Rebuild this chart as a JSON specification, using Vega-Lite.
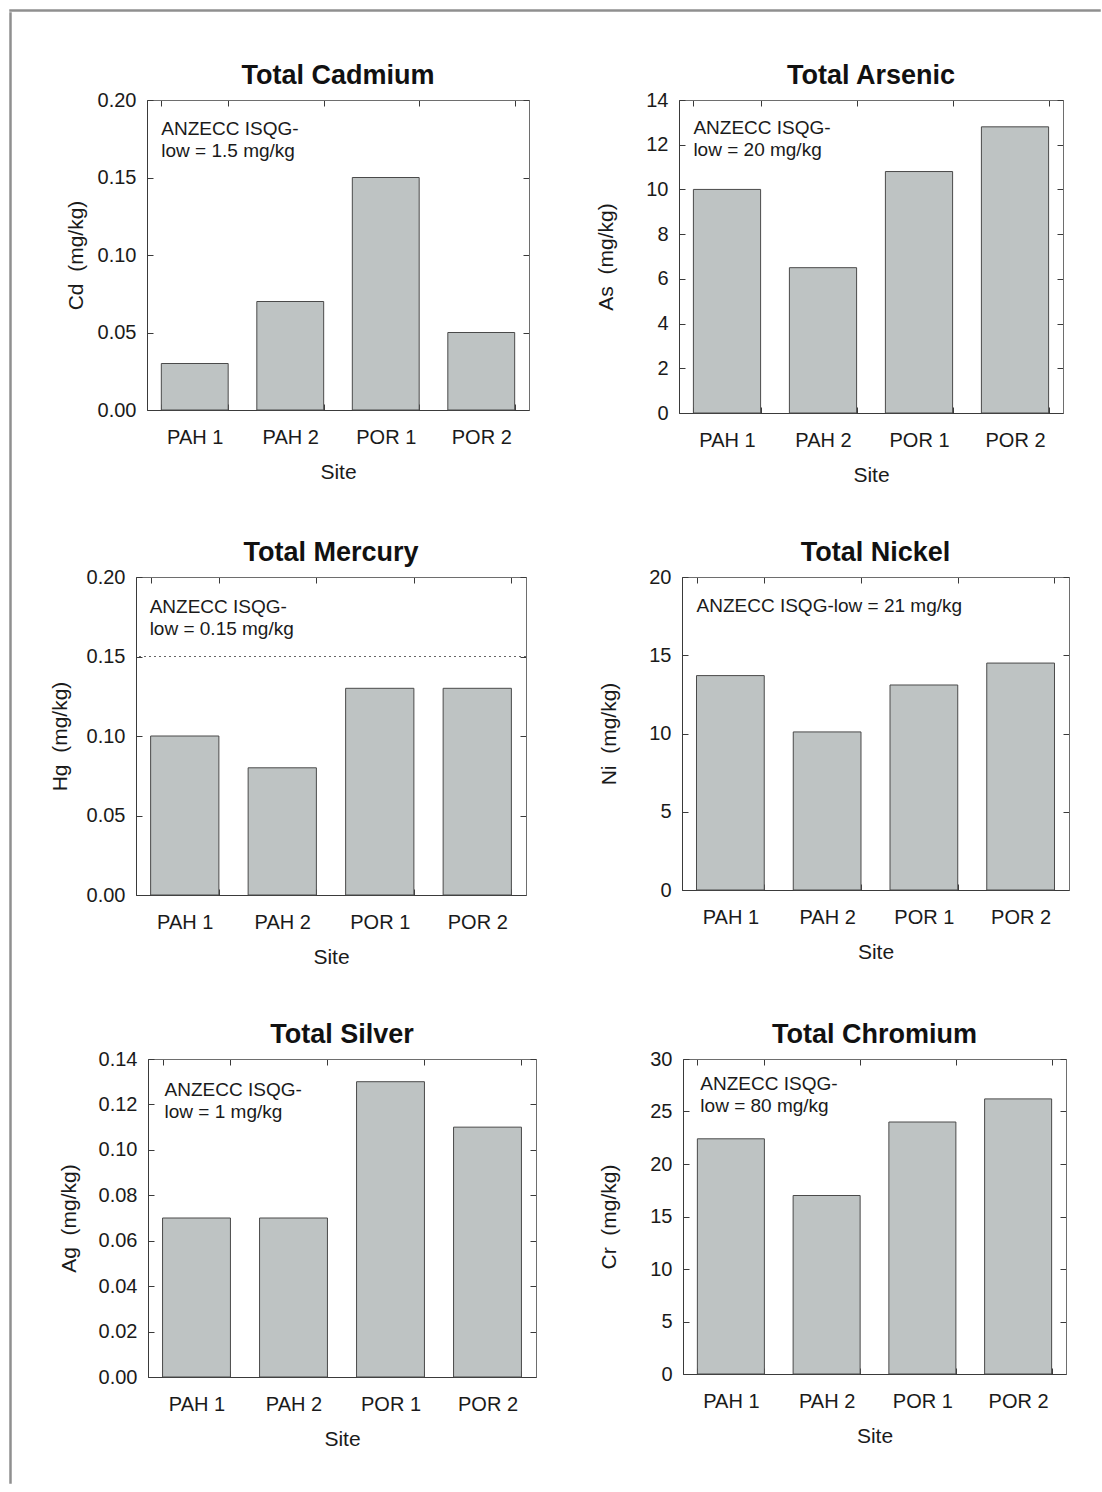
{
  "$schema": "https://vega.github.io/schema/vega-lite/v6.json",
  "background": "white",
  "padding": {"left": 9, "top": 9, "right": 0, "bottom": 0},
  "datasets": {
    "metals": [
      {"metal": "Cd", "site": "PAH 1", "value": 0.03},
      {"metal": "Cd", "site": "PAH 2", "value": 0.07},
      {"metal": "Cd", "site": "POR 1", "value": 0.15},
      {"metal": "Cd", "site": "POR 2", "value": 0.05},
      {"metal": "As", "site": "PAH 1", "value": 10.0},
      {"metal": "As", "site": "PAH 2", "value": 6.5},
      {"metal": "As", "site": "POR 1", "value": 10.8},
      {"metal": "As", "site": "POR 2", "value": 12.8},
      {"metal": "Hg", "site": "PAH 1", "value": 0.10},
      {"metal": "Hg", "site": "PAH 2", "value": 0.08},
      {"metal": "Hg", "site": "POR 1", "value": 0.13},
      {"metal": "Hg", "site": "POR 2", "value": 0.13},
      {"metal": "Ni", "site": "PAH 1", "value": 13.7},
      {"metal": "Ni", "site": "PAH 2", "value": 10.1},
      {"metal": "Ni", "site": "POR 1", "value": 13.1},
      {"metal": "Ni", "site": "POR 2", "value": 14.5},
      {"metal": "Ag", "site": "PAH 1", "value": 0.07},
      {"metal": "Ag", "site": "PAH 2", "value": 0.07},
      {"metal": "Ag", "site": "POR 1", "value": 0.13},
      {"metal": "Ag", "site": "POR 2", "value": 0.11},
      {"metal": "Cr", "site": "PAH 1", "value": 22.4},
      {"metal": "Cr", "site": "PAH 2", "value": 17.0},
      {"metal": "Cr", "site": "POR 1", "value": 24.0},
      {"metal": "Cr", "site": "POR 2", "value": 26.2}
    ],
    "notes": [
      {"metal": "Cd", "note": "ANZECC ISQG-\nlow = 1.5 mg/kg"},
      {"metal": "As", "note": "ANZECC ISQG-\nlow = 20 mg/kg"},
      {"metal": "Hg", "note": "ANZECC ISQG-\nlow = 0.15 mg/kg", "guideline": 0.15},
      {"metal": "Ni", "note": "ANZECC ISQG-low = 21 mg/kg"},
      {"metal": "Ag", "note": "ANZECC ISQG-\nlow = 1 mg/kg"},
      {"metal": "Cr", "note": "ANZECC ISQG-\nlow = 80 mg/kg"}
    ]
  },
  "vconcat": [
    {
      "width": 1090, "height": 1,
      "view": {"stroke": "#8f8f8f", "strokeWidth": 1.5},
      "data": {"values": []},
      "mark": "rule",
      "encoding": {}
    },
    {
      "hconcat": [
        {
          "width": 1, "height": 1470,
          "view": {"stroke": "#8f8f8f", "strokeWidth": 1.5},
          "data": {"values": []},
          "mark": "rule",
          "encoding": {}
        },
        {
          "vconcat": [
            {
              "width": 1, "height": 1,
              "view": {"stroke": "transparent"},
              "data": {"values": []},
              "mark": "rule",
              "encoding": {}
            },
            {
              "vconcat": [
                {
                  "hconcat": [
                    {
                      "width": 382, "height": 310,
                      "title": {"text": "Total Cadmium", "offset": 0},
                      "layer": [
                        {"data": {"name": "metals"}, "transform": [{"filter": "datum.metal === 'Cd'"}],
                         "mark": {"type": "bar", "fill": "#bec3c3", "stroke": "#4a4a4a", "strokeWidth": 1},
                         "encoding": {
                           "x": {"field": "site", "type": "nominal", "sort": null, "scale": {"paddingInner": 0.3, "paddingOuter": 0.15},
                                 "axis": {"orient": "bottom", "title": "Site", "tickBand": "extent", "labelPadding": 23, "titlePadding": 14}},
                           "y": {"field": "value", "type": "quantitative", "scale": {"domain": [0, 0.2], "nice": false},
                                 "axis": {"orient": "left", "title": "Cd\u00a0 (mg/kg)", "values": [0, 0.05, 0.1, 0.15, 0.2], "format": ".2f", "labelPadding": 17, "titlePadding": 11}}
                         }},
                        {"data": {"name": "metals"}, "transform": [{"filter": "datum.metal === 'Cd'"}],
                         "mark": {"type": "bar", "opacity": 0},
                         "encoding": {
                           "x": {"field": "site", "type": "nominal", "sort": null, "axis": {"orient": "top", "labels": false, "title": null, "tickBand": "extent", "domainColor": "#6e6e6e"}},
                           "y": {"field": "value", "type": "quantitative", "axis": {"orient": "right", "labels": false, "title": null, "values": [0, 0.05, 0.1, 0.15, 0.2], "domainColor": "#6e6e6e"}}
                         }},
                        {"data": {"name": "notes"}, "transform": [{"filter": "datum.metal === 'Cd'"}],
                         "mark": {"type": "text", "align": "left", "baseline": "alphabetic", "dy": 35, "fontSize": 19, "lineBreak": "\n", "lineHeight": 22, "color": "#1a1a1a"},
                         "encoding": {
                           "x": {"datum": "PAH 1", "type": "nominal", "bandPosition": 0, "axis": null},
                           "y": {"datum": 0.2, "type": "quantitative", "axis": null},
                           "text": {"field": "note"}
                         }}
                      ],
                      "resolve": {"axis": {"x": "independent", "y": "independent"}}
                    },
                    {
                      "width": 384, "height": 313,
                      "title": {"text": "Total Arsenic", "offset": 0},
                      "layer": [
                        {"data": {"name": "metals"}, "transform": [{"filter": "datum.metal === 'As'"}],
                         "mark": {"type": "bar", "fill": "#bec3c3", "stroke": "#4a4a4a", "strokeWidth": 1},
                         "encoding": {
                           "x": {"field": "site", "type": "nominal", "sort": null, "scale": {"paddingInner": 0.3, "paddingOuter": 0.15},
                                 "axis": {"orient": "bottom", "title": "Site", "tickBand": "extent", "labelPadding": 23, "titlePadding": 14}},
                           "y": {"field": "value", "type": "quantitative", "scale": {"domain": [0, 14], "nice": false},
                                 "axis": {"orient": "left", "title": "As\u00a0 (mg/kg)", "values": [0, 2, 4, 6, 8, 10, 12, 14], "format": "d", "labelPadding": 17, "titlePadding": 29}}
                         }},
                        {"data": {"name": "metals"}, "transform": [{"filter": "datum.metal === 'As'"}],
                         "mark": {"type": "bar", "opacity": 0},
                         "encoding": {
                           "x": {"field": "site", "type": "nominal", "sort": null, "axis": {"orient": "top", "labels": false, "title": null, "tickBand": "extent", "domainColor": "#6e6e6e"}},
                           "y": {"field": "value", "type": "quantitative", "axis": {"orient": "right", "labels": false, "title": " ", "titleFontSize": 1, "titlePadding": 5, "values": [0, 2, 4, 6, 8, 10, 12, 14], "domainColor": "#6e6e6e"}}
                         }},
                        {"data": {"name": "notes"}, "transform": [{"filter": "datum.metal === 'As'"}],
                         "mark": {"type": "text", "align": "left", "baseline": "alphabetic", "dy": 34, "fontSize": 19, "lineBreak": "\n", "lineHeight": 22, "color": "#1a1a1a"},
                         "encoding": {
                           "x": {"datum": "PAH 1", "type": "nominal", "bandPosition": 0, "axis": null},
                           "y": {"datum": 14, "type": "quantitative", "axis": null},
                           "text": {"field": "note"}
                         }}
                      ],
                      "resolve": {"axis": {"x": "independent", "y": "independent"}}
                    }
                  ],
                  "spacing": 65
                },
                {
                  "hconcat": [
                    {
                      "width": 390, "height": 318,
                      "title": {"text": "Total Mercury", "offset": 0},
                      "layer": [
                        {"data": {"name": "metals"}, "transform": [{"filter": "datum.metal === 'Hg'"}],
                         "mark": {"type": "bar", "fill": "#bec3c3", "stroke": "#4a4a4a", "strokeWidth": 1},
                         "encoding": {
                           "x": {"field": "site", "type": "nominal", "sort": null, "scale": {"paddingInner": 0.3, "paddingOuter": 0.15},
                                 "axis": {"orient": "bottom", "title": "Site", "tickBand": "extent", "labelPadding": 23, "titlePadding": 14}},
                           "y": {"field": "value", "type": "quantitative", "scale": {"domain": [0, 0.2], "nice": false},
                                 "axis": {"orient": "left", "title": "Hg\u00a0 (mg/kg)", "values": [0, 0.05, 0.1, 0.15, 0.2], "format": ".2f", "labelPadding": 17, "titlePadding": 16}}
                         }},
                        {"data": {"name": "metals"}, "transform": [{"filter": "datum.metal === 'Hg'"}],
                         "mark": {"type": "bar", "opacity": 0},
                         "encoding": {
                           "x": {"field": "site", "type": "nominal", "sort": null, "axis": {"orient": "top", "labels": false, "title": null, "tickBand": "extent", "domainColor": "#6e6e6e"}},
                           "y": {"field": "value", "type": "quantitative", "axis": {"orient": "right", "labels": false, "title": null, "values": [0, 0.05, 0.1, 0.15, 0.2], "domainColor": "#6e6e6e"}}
                         }},
                        {"data": {"name": "notes"}, "transform": [{"filter": "datum.metal === 'Hg'"}],
                         "mark": {"type": "rule", "strokeDash": [2, 3], "color": "#666666", "strokeWidth": 1},
                         "encoding": {"y": {"field": "guideline", "type": "quantitative", "axis": null}}},
                        {"data": {"name": "notes"}, "transform": [{"filter": "datum.metal === 'Hg'"}],
                         "mark": {"type": "text", "align": "left", "baseline": "alphabetic", "dy": 36, "dx": -1, "fontSize": 19, "lineBreak": "\n", "lineHeight": 22, "color": "#1a1a1a"},
                         "encoding": {
                           "x": {"datum": "PAH 1", "type": "nominal", "bandPosition": 0, "axis": null},
                           "y": {"datum": 0.2, "type": "quantitative", "axis": null},
                           "text": {"field": "note"}
                         }}
                      ],
                      "resolve": {"axis": {"x": "independent", "y": "independent"}}
                    },
                    {
                      "width": 387, "height": 313,
                      "title": {"text": "Total Nickel", "offset": 0},
                      "layer": [
                        {"data": {"name": "metals"}, "transform": [{"filter": "datum.metal === 'Ni'"}],
                         "mark": {"type": "bar", "fill": "#bec3c3", "stroke": "#4a4a4a", "strokeWidth": 1},
                         "encoding": {
                           "x": {"field": "site", "type": "nominal", "sort": null, "scale": {"paddingInner": 0.3, "paddingOuter": 0.15},
                                 "axis": {"orient": "bottom", "title": "Site", "tickBand": "extent", "labelPadding": 23, "titlePadding": 14}},
                           "y": {"field": "value", "type": "quantitative", "scale": {"domain": [0, 20], "nice": false},
                                 "axis": {"orient": "left", "title": "Ni\u00a0 (mg/kg)", "values": [0, 5, 10, 15, 20], "format": "d", "labelPadding": 17, "titlePadding": 29}}
                         }},
                        {"data": {"name": "metals"}, "transform": [{"filter": "datum.metal === 'Ni'"}],
                         "mark": {"type": "bar", "opacity": 0},
                         "encoding": {
                           "x": {"field": "site", "type": "nominal", "sort": null, "axis": {"orient": "top", "labels": false, "title": null, "tickBand": "extent", "domainColor": "#6e6e6e"}},
                           "y": {"field": "value", "type": "quantitative", "axis": {"orient": "right", "labels": false, "title": " ", "titleFontSize": 1, "titlePadding": 10, "values": [0, 5, 10, 15, 20], "domainColor": "#6e6e6e"}}
                         }},
                        {"data": {"name": "notes"}, "transform": [{"filter": "datum.metal === 'Ni'"}],
                         "mark": {"type": "text", "align": "left", "baseline": "alphabetic", "dy": 35, "fontSize": 19, "lineBreak": "\n", "lineHeight": 22, "color": "#1a1a1a"},
                         "encoding": {
                           "x": {"datum": "PAH 1", "type": "nominal", "bandPosition": 0, "axis": null},
                           "y": {"datum": 20, "type": "quantitative", "axis": null},
                           "text": {"field": "note"}
                         }}
                      ],
                      "resolve": {"axis": {"x": "independent", "y": "independent"}}
                    }
                  ],
                  "spacing": 71
                },
                {
                  "hconcat": [
                    {
                      "width": 388, "height": 318,
                      "title": {"text": "Total Silver", "offset": 0},
                      "layer": [
                        {"data": {"name": "metals"}, "transform": [{"filter": "datum.metal === 'Ag'"}],
                         "mark": {"type": "bar", "fill": "#bec3c3", "stroke": "#4a4a4a", "strokeWidth": 1},
                         "encoding": {
                           "x": {"field": "site", "type": "nominal", "sort": null, "scale": {"paddingInner": 0.3, "paddingOuter": 0.15},
                                 "axis": {"orient": "bottom", "title": "Site", "tickBand": "extent", "labelPadding": 23, "titlePadding": 14}},
                           "y": {"field": "value", "type": "quantitative", "scale": {"domain": [0, 0.14], "nice": false},
                                 "axis": {"orient": "left", "title": "Ag\u00a0 (mg/kg)", "values": [0, 0.02, 0.04, 0.06, 0.08, 0.1, 0.12, 0.14], "format": ".2f", "labelPadding": 17, "titlePadding": 19}}
                         }},
                        {"data": {"name": "metals"}, "transform": [{"filter": "datum.metal === 'Ag'"}],
                         "mark": {"type": "bar", "opacity": 0},
                         "encoding": {
                           "x": {"field": "site", "type": "nominal", "sort": null, "axis": {"orient": "top", "labels": false, "title": null, "tickBand": "extent", "domainColor": "#6e6e6e"}},
                           "y": {"field": "value", "type": "quantitative", "axis": {"orient": "right", "labels": false, "title": null, "values": [0, 0.02, 0.04, 0.06, 0.08, 0.1, 0.12, 0.14], "domainColor": "#6e6e6e"}}
                         }},
                        {"data": {"name": "notes"}, "transform": [{"filter": "datum.metal === 'Ag'"}],
                         "mark": {"type": "text", "align": "left", "baseline": "alphabetic", "dy": 37, "dx": 2, "fontSize": 19, "lineBreak": "\n", "lineHeight": 22, "color": "#1a1a1a"},
                         "encoding": {
                           "x": {"datum": "PAH 1", "type": "nominal", "bandPosition": 0, "axis": null},
                           "y": {"datum": 0.14, "type": "quantitative", "axis": null},
                           "text": {"field": "note"}
                         }}
                      ],
                      "resolve": {"axis": {"x": "independent", "y": "independent"}}
                    },
                    {
                      "width": 383, "height": 315,
                      "title": {"text": "Total Chromium", "offset": 0},
                      "layer": [
                        {"data": {"name": "metals"}, "transform": [{"filter": "datum.metal === 'Cr'"}],
                         "mark": {"type": "bar", "fill": "#bec3c3", "stroke": "#4a4a4a", "strokeWidth": 1},
                         "encoding": {
                           "x": {"field": "site", "type": "nominal", "sort": null, "scale": {"paddingInner": 0.3, "paddingOuter": 0.15},
                                 "axis": {"orient": "bottom", "title": "Site", "tickBand": "extent", "labelPadding": 23, "titlePadding": 14}},
                           "y": {"field": "value", "type": "quantitative", "scale": {"domain": [0, 30], "nice": false},
                                 "axis": {"orient": "left", "title": "Cr\u00a0 (mg/kg)", "values": [0, 5, 10, 15, 20, 25, 30], "format": "d", "labelPadding": 17, "titlePadding": 30}}
                         }},
                        {"data": {"name": "metals"}, "transform": [{"filter": "datum.metal === 'Cr'"}],
                         "mark": {"type": "bar", "opacity": 0},
                         "encoding": {
                           "x": {"field": "site", "type": "nominal", "sort": null, "axis": {"orient": "top", "labels": false, "title": null, "tickBand": "extent", "domainColor": "#6e6e6e"}},
                           "y": {"field": "value", "type": "quantitative", "axis": {"orient": "right", "labels": false, "title": " ", "titleFontSize": 1, "titlePadding": 1, "values": [0, 5, 10, 15, 20, 25, 30], "domainColor": "#6e6e6e"}}
                         }},
                        {"data": {"name": "notes"}, "transform": [{"filter": "datum.metal === 'Cr'"}],
                         "mark": {"type": "text", "align": "left", "baseline": "alphabetic", "dy": 31, "dx": 3, "fontSize": 19, "lineBreak": "\n", "lineHeight": 22, "color": "#1a1a1a"},
                         "encoding": {
                           "x": {"datum": "PAH 1", "type": "nominal", "bandPosition": 0, "axis": null},
                           "y": {"datum": 30, "type": "quantitative", "axis": null},
                           "text": {"field": "note"}
                         }}
                      ],
                      "resolve": {"axis": {"x": "independent", "y": "independent"}}
                    }
                  ],
                  "spacing": 61
                }
              ],
              "spacing": 52,
              "center": true
            }
          ],
          "spacing": 46,
          "center": true
        }
      ],
      "spacing": 36
    }
  ],
  "spacing": 0,
  "config": {
    "font": "Liberation Sans",
    "view": {"stroke": "#6e6e6e", "strokeWidth": 1},
    "axis": {
      "labelFont": "Liberation Sans", "titleFont": "Liberation Sans",
      "labelFontSize": 20, "titleFontSize": 21, "titleFontWeight": "normal",
      "labelColor": "#1a1a1a", "titleColor": "#1a1a1a",
      "domainColor": "#3a3a3a", "tickColor": "#3a3a3a", "tickSize": -6,
      "grid": false, "labelAngle": 0, "labelOverlap": false, "labelFlush": false
    },
    "title": {"font": "Liberation Sans", "fontSize": 27, "fontWeight": "bold", "color": "#111111", "anchor": "middle", "frame": "group"},
    "text": {"font": "Liberation Sans"}
  }
}
